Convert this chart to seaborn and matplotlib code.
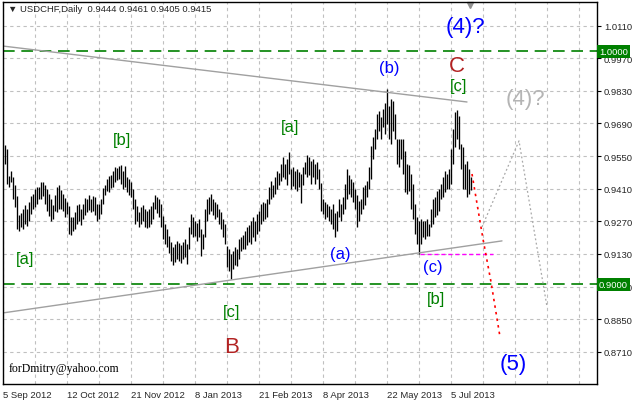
import matplotlib
matplotlib.use("Agg")
import matplotlib.pyplot as plt
import pandas as pd
import seaborn as sns

# --- daily bars (high / low), one per trading day
highs = [
    0.9597, 0.9581, 0.9465, 0.9486, 0.9461, 0.9426, 0.9379, 0.9297, 0.9306, 0.9323,
    0.9340, 0.9323, 0.9353, 0.9379, 0.9388, 0.9409, 0.9418, 0.9418, 0.9439, 0.9439,
    0.9426, 0.9409, 0.9388, 0.9366, 0.9340, 0.9383, 0.9418, 0.9426, 0.9405, 0.9388,
    0.9370, 0.9353, 0.9336, 0.9289, 0.9289, 0.9310, 0.9340, 0.9345, 0.9323, 0.9345,
    0.9370, 0.9366, 0.9383, 0.9366, 0.9379, 0.9375, 0.9345, 0.9345, 0.9366, 0.9413,
    0.9426, 0.9452, 0.9465, 0.9469, 0.9486, 0.9504, 0.9499, 0.9508, 0.9512, 0.9486,
    0.9508, 0.9461, 0.9452, 0.9439, 0.9409, 0.9366, 0.9336, 0.9310, 0.9332, 0.9340,
    0.9323, 0.9314, 0.9323, 0.9336, 0.9353, 0.9383, 0.9375, 0.9366, 0.9345, 0.9293,
    0.9259, 0.9237, 0.9207, 0.9181, 0.9160, 0.9173, 0.9185, 0.9177, 0.9168, 0.9181,
    0.9194, 0.9173, 0.9246, 0.9302, 0.9289, 0.9271, 0.9263, 0.9280, 0.9237, 0.9216,
    0.9323, 0.9366, 0.9375, 0.9388, 0.9366, 0.9353, 0.9345, 0.9323, 0.9310, 0.9280,
    0.9259, 0.9164, 0.9152, 0.9130, 0.9143, 0.9160, 0.9152, 0.9194, 0.9203, 0.9211,
    0.9228, 0.9246, 0.9254, 0.9271, 0.9289, 0.9271, 0.9302, 0.9314, 0.9345, 0.9353,
    0.9349, 0.9366, 0.9418, 0.9443, 0.9426, 0.9461, 0.9486, 0.9478, 0.9517, 0.9547,
    0.9517, 0.9538, 0.9568, 0.9495, 0.9504, 0.9486, 0.9495, 0.9482, 0.9474, 0.9504,
    0.9525, 0.9555, 0.9547, 0.9529, 0.9538, 0.9517, 0.9525, 0.9495, 0.9435, 0.9366,
    0.9353, 0.9345, 0.9336, 0.9323, 0.9345, 0.9306, 0.9314, 0.9366, 0.9345, 0.9375,
    0.9431, 0.9495, 0.9469, 0.9452, 0.9439, 0.9409, 0.9383, 0.9357, 0.9366, 0.9418,
    0.9426, 0.9443, 0.9504, 0.9593, 0.9632, 0.9666, 0.9731, 0.9743, 0.9718, 0.9752,
    0.9778, 0.9838, 0.9765, 0.9795, 0.9786, 0.9731, 0.9623, 0.9623, 0.9623, 0.9623,
    0.9572, 0.9517, 0.9512, 0.9474, 0.9431, 0.9345, 0.9289, 0.9271, 0.9280, 0.9271,
    0.9271, 0.9280, 0.9259, 0.9323, 0.9366, 0.9375, 0.9400, 0.9409, 0.9431, 0.9461,
    0.9486, 0.9474, 0.9495, 0.9581, 0.9666, 0.9739, 0.9748, 0.9722, 0.9602, 0.9589,
    0.9517, 0.9529, 0.9495, 0.9461,
]
lows = [
    0.9517, 0.9431, 0.9418, 0.9439, 0.9366, 0.9332, 0.9237, 0.9228, 0.9246, 0.9237,
    0.9259, 0.9250, 0.9271, 0.9302, 0.9323, 0.9332, 0.9345, 0.9366, 0.9366, 0.9379,
    0.9345, 0.9314, 0.9293, 0.9271, 0.9280, 0.9314, 0.9310, 0.9323, 0.9323, 0.9314,
    0.9289, 0.9302, 0.9216, 0.9211, 0.9228, 0.9237, 0.9259, 0.9271, 0.9254, 0.9280,
    0.9297, 0.9310, 0.9319, 0.9310, 0.9314, 0.9297, 0.9271, 0.9280, 0.9302, 0.9345,
    0.9383, 0.9400, 0.9396, 0.9413, 0.9418, 0.9439, 0.9448, 0.9452, 0.9431, 0.9409,
    0.9418, 0.9396, 0.9383, 0.9375, 0.9323, 0.9259, 0.9271, 0.9246, 0.9259, 0.9271,
    0.9246, 0.9241, 0.9246, 0.9259, 0.9280, 0.9323, 0.9306, 0.9289, 0.9246, 0.9194,
    0.9173, 0.9160, 0.9135, 0.9100, 0.9083, 0.9096, 0.9109, 0.9100, 0.9092, 0.9109,
    0.9118, 0.9088, 0.9152, 0.9216, 0.9203, 0.9207, 0.9185, 0.9203, 0.9122, 0.9152,
    0.9203, 0.9271, 0.9302, 0.9314, 0.9297, 0.9280, 0.9289, 0.9259, 0.9237, 0.9203,
    0.9173, 0.9075, 0.9057, 0.9023, 0.9066, 0.9083, 0.9079, 0.9109, 0.9143, 0.9152,
    0.9152, 0.9168, 0.9181, 0.9173, 0.9203, 0.9185, 0.9216, 0.9228, 0.9259, 0.9271,
    0.9280, 0.9289, 0.9345, 0.9366, 0.9375, 0.9388, 0.9409, 0.9426, 0.9443, 0.9461,
    0.9452, 0.9426, 0.9474, 0.9409, 0.9422, 0.9409, 0.9400, 0.9418, 0.9349, 0.9426,
    0.9474, 0.9461, 0.9469, 0.9431, 0.9461, 0.9431, 0.9452, 0.9409, 0.9314, 0.9302,
    0.9280, 0.9289, 0.9271, 0.9259, 0.9237, 0.9203, 0.9228, 0.9289, 0.9271, 0.9302,
    0.9323, 0.9366, 0.9388, 0.9375, 0.9353, 0.9323, 0.9246, 0.9271, 0.9302, 0.9323,
    0.9340, 0.9375, 0.9409, 0.9452, 0.9538, 0.9581, 0.9623, 0.9657, 0.9623, 0.9675,
    0.9645, 0.9687, 0.9623, 0.9602, 0.9657, 0.9623, 0.9517, 0.9504, 0.9538, 0.9474,
    0.9396, 0.9388, 0.9400, 0.9323, 0.9280, 0.9216, 0.9173, 0.9130, 0.9173, 0.9203,
    0.9194, 0.9207, 0.9207, 0.9246, 0.9259, 0.9289, 0.9297, 0.9314, 0.9366, 0.9375,
    0.9396, 0.9409, 0.9409, 0.9431, 0.9517, 0.9589, 0.9623, 0.9581, 0.9495, 0.9409,
    0.9409, 0.9375, 0.9388, 0.9405,
]
last_ohlc = [0.9444, 0.9461, 0.9405, 0.9415]

date_labels = ["5 Sep 2012", "12 Oct 2012", "21 Nov 2012", "8 Jan 2013",
               "21 Feb 2013", "8 Apr 2013", "22 May 2013", "5 Jul 2013"]
price_ticks = [1.0110, 0.9970, 0.9830, 0.9690, 0.9550, 0.9410,
               0.9270, 0.9130, 0.8990, 0.8850, 0.8710]
level_lines = [1.0000, 0.9000]

# trend lines / projections: (bar index, price)
upper_trend_x = [-1, 231]
upper_trend_y = [1.0022, 0.9782]
lower_trend_x = [-1, 248.5]
lower_trend_y = [0.8877, 0.9186]
support_x = [207.5, 244]
support_y = [0.9130, 0.9130]
red_path_x = [233.5, 239, 243, 247.5]
red_path_y = [0.9473, 0.9194, 0.9010, 0.8774]
gray_path_x = [238.5, 257, 271]
gray_path_y = [0.9246, 0.9615, 0.8903]

# wave labels: text, bar, price, colour, size
wave_labels = [
    ("(4)?", 230, 1.0108, "#0000ff", 16),
    ("(4)?", 260, 0.9795, "#b4b4b4", 16),
    ("C", 226, 0.9937, "#b22222", 16),
    ("[c]", 227, 0.9851, "#008000", 12),
    ("(b)", 192, 0.9928, "#0000ff", 12),
    ("[b]", 58.5, 0.9619, "#008000", 12),
    ("[a]", 142.5, 0.9675, "#008000", 12),
    ("[a]", 10, 0.9109, "#008000", 12),
    ("(a)", 167.5, 0.9134, "#0000ff", 12),
    ("(c)", 214, 0.9074, "#0000ff", 12),
    ("[b]", 215.5, 0.8937, "#008000", 12),
    ("[c]", 113.5, 0.8881, "#008000", 12),
    ("B", 113.5, 0.8735, "#b22222", 16),
    ("(5)", 254, 0.8658, "#0000ff", 16),
]

bars = pd.DataFrame({"bar": range(len(highs)), "high": highs, "low": lows})

sns.set_style("white")
plt.rcParams["font.family"] = ["Liberation Sans", "DejaVu Sans"]

fig = plt.figure(figsize=(6.35, 4.02), dpi=100)
ax = fig.add_axes([3 / 635, 17 / 402, 594 / 635, 382 / 402])

ax.set_xlim(-1, 296)
ax.set_ylim(0.8572, 1.0211)

# grid like the terminal: every 16 bars, every price tick
ax.set_xticks([-1 + 32 * k for k in range(len(date_labels))])
ax.set_xticks([-1 + 16 * k for k in range(19)], minor=True)
ax.set_xticklabels(date_labels, ha="left", fontsize=6.8)
ax.set_yticks(price_ticks)
ax.set_yticklabels([f"{p:.4f}" for p in price_ticks], fontsize=6.8)
ax.yaxis.tick_right()
ax.tick_params(axis="both", which="both", direction="out", length=3,
               width=0.8, color="black", pad=1)
ax.tick_params(axis="y", pad=2)
ax.grid(which="both", color="#c0c0c0", linestyle=(0, (3, 3)), linewidth=0.8)
for sp in ax.spines.values():
    sp.set_color("black")
    sp.set_linewidth(1)

# price bars
ax.vlines(bars["bar"], bars["low"], bars["high"], color="black", linewidth=0.95)

# key levels, with their green price tags on the scale
for lv in level_lines:
    ax.axhline(lv, color="#008000", linestyle=(0, (7, 4)), linewidth=1.2)
    ax.text(1.003, lv, f"{lv:.4f}", transform=ax.get_yaxis_transform(),
            ha="left", va="center", color="white", fontsize=6.8,
            bbox=dict(boxstyle="square,pad=0.2", fc="#008000", ec="none"),
            clip_on=False, zorder=5)

sns.lineplot(x=upper_trend_x, y=upper_trend_y, ax=ax, color="#a0a0a0", linewidth=1)
sns.lineplot(x=lower_trend_x, y=lower_trend_y, ax=ax, color="#a0a0a0", linewidth=1)
sns.lineplot(x=support_x, y=support_y, ax=ax, color="#ff00ff", linewidth=1,
             linestyle=(0, (3, 2)))
sns.lineplot(x=red_path_x, y=red_path_y, ax=ax, color="#ff0000", linewidth=1.2,
             linestyle=(0, (1.5, 2.5)), sort=False)
sns.lineplot(x=gray_path_x, y=gray_path_y, ax=ax, color="#a8a8a8", linewidth=0.9,
             linestyle=(0, (1.5, 2)), sort=False)

for txt, bx, py, col, sz in wave_labels:
    ax.text(bx, py, txt, color=col, fontsize=sz, ha="center", va="center")

ax.text(2, 0.8641, "forDmitry@yahoo.com", family="Liberation Serif",
        fontsize=8.5, color="black", ha="left", va="center")

# chart shift marker
ax.plot([232.5], [1.0200], marker="v", color="#909090", markersize=5,
        clip_on=False)

fig.text(8 / 635, 1 - 10 / 402,
         "▼ USDCHF,Daily  " + " ".join(f"{v:.4f}" for v in last_ohlc),
         fontsize=6.8, ha="left", va="center",
         family=["Liberation Sans", "DejaVu Sans"])

fig.savefig("out.png", dpi=100, facecolor="white")
